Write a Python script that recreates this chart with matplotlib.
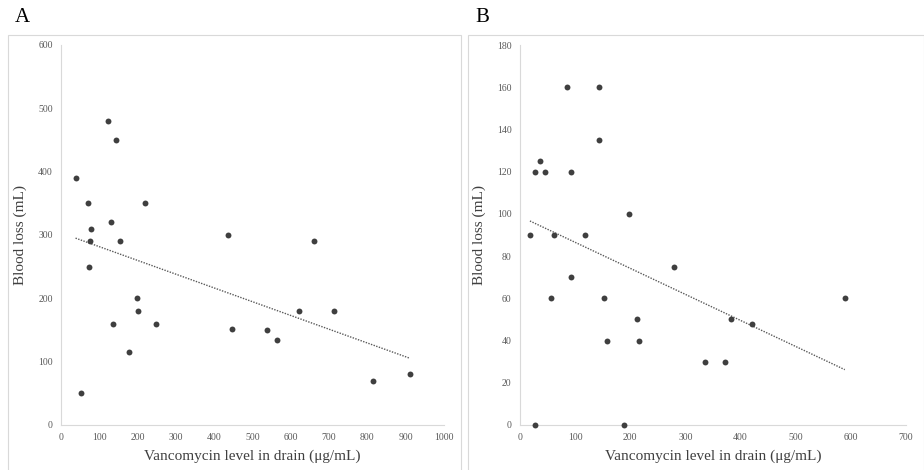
import matplotlib.pyplot as plt
import numpy as np
from matplotlib.patches import Rectangle

plt.rcParams['font.family'] = ['Liberation Serif', 'DejaVu Serif']

# panel A: vancomycin in drain vs blood loss
a_vanco = [38, 71, 78, 77, 72, 53, 124, 143, 131, 155, 136, 220, 198, 202, 177,
           248, 437, 446, 538, 564, 621, 660, 713, 814, 911]
a_blood = [390, 350, 310, 290, 250, 50, 480, 450, 320, 290, 160, 350, 200, 180, 115,
           160, 300, 152, 150, 135, 180, 290, 180, 70, 80]

# panel B
b_vanco = [18, 28, 36, 45, 28, 61, 56, 85, 93, 92, 117, 143, 143, 152, 158,
           189, 198, 213, 215, 279, 336, 371, 383, 420, 589]
b_blood = [90, 120, 125, 120, 0, 90, 60, 160, 120, 70, 90, 160, 135, 60, 40,
           0, 100, 50, 40, 75, 30, 30, 50, 48, 60]

panels = [
    ('A', a_vanco, a_blood, (0, 1000), 100, (0, 600), 100),
    ('B', b_vanco, b_blood, (0, 700), 100, (0, 180), 20),
]

fig = plt.figure(figsize=(9.24, 4.70), dpi=100)

boxes = [(8, 461), (468, 924)]
axpos = [(61, 444), (520, 906)]
letter_x = [15, 475]

for (name, xs, ys, xlim, xstep, ylim, ystep), (bx0, bx1), (ax0, ax1), lx in zip(panels, boxes, axpos, letter_x):
    fig.patches.append(Rectangle((bx0 / 924, -0.01), (bx1 - bx0) / 924, 1 - 35 / 470 + 0.01,
                                 transform=fig.transFigure, fill=False,
                                 edgecolor='#d9d9d9', lw=0.8))
    fig.text(lx / 924, 1 - 18 / 470, name, fontsize=15, va='center', ha='left')

    ax = fig.add_axes([ax0 / 924, 1 - 425 / 470, (ax1 - ax0) / 924, (425 - 45) / 470])
    ax.scatter(xs, ys, s=18, color='#3f3f3f', zorder=3, linewidths=0, clip_on=False)

    # linear trend line
    k, b = np.polyfit(xs, ys, 1)
    tx = np.array([min(xs), max(xs)])
    ax.plot(tx, k * tx + b, ls=(0, (1, 1)), color='#595959', lw=1)

    ax.set_xlim(*xlim)
    ax.set_ylim(*ylim)
    ax.set_xticks(np.arange(xlim[0], xlim[1] + 1, xstep))
    ax.set_yticks(np.arange(ylim[0], ylim[1] + 1, ystep))
    ax.tick_params(length=0, labelsize=7, labelcolor='#595959', pad=6)
    for s in ['top', 'right']:
        ax.spines[s].set_visible(False)
    for s in ['left', 'bottom']:
        ax.spines[s].set_color('#d9d9d9')
        ax.spines[s].set_linewidth(0.8)
    ax.set_xlabel('Vancomycin level in drain (μg/mL)', fontsize=11, color='#404040', labelpad=5)
    ax.set_ylabel('Blood loss (mL)', fontsize=11, color='#404040', labelpad=8)

fig.savefig('out.png', dpi=100)
